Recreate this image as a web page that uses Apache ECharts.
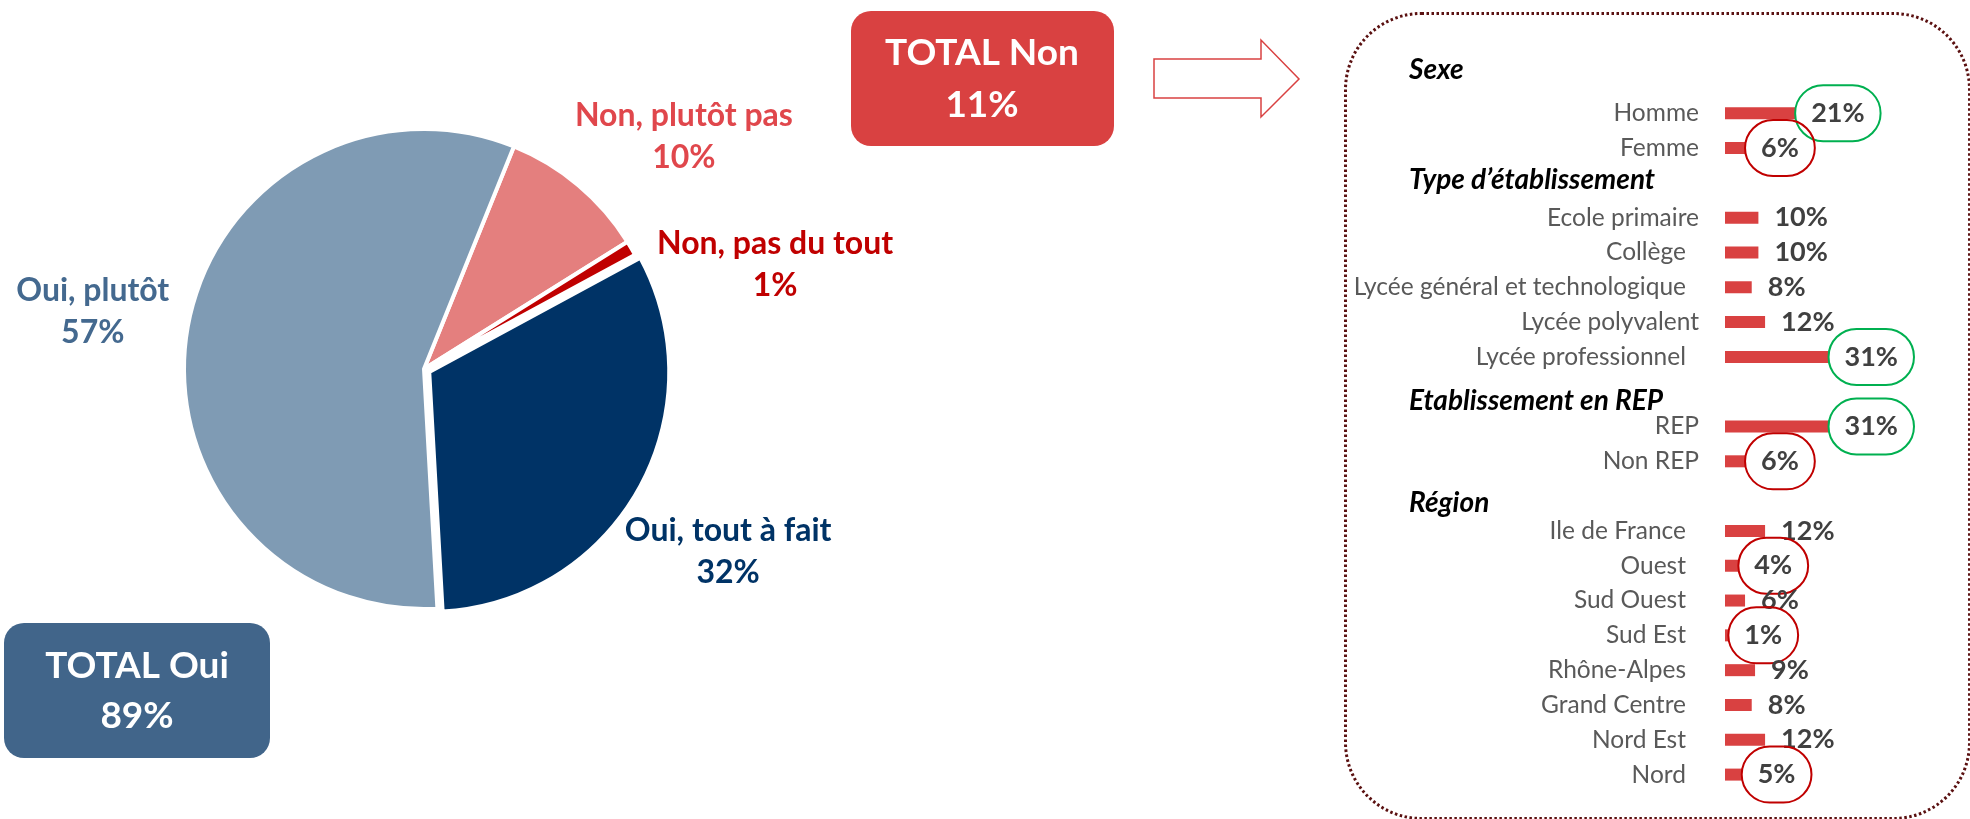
<!DOCTYPE html>
<html lang="fr">

<head>
    <meta charset="UTF-8">
    <title>Total Oui / Non</title>
    <script src="https://cdn.jsdelivr.net/npm/echarts@6/dist/echarts.min.js"></script>
</head>

<body style="margin: 0; background: #fff">
    <div id="container" style="width: 1970px; height: 819px"></div>
    <script type="text/javascript">
        // pie (clockwise from the top-right)
        var pieLabels = ['Non, plutôt pas', 'Non, pas du tout', 'Oui, tout à fait', 'Oui, plutôt'];
        var pieValues = [10, 1, 32, 57];

        // "Non" breakdown, one pair of arrays per group
        var groupTitles = ['Sexe', 'Type d’établissement', 'Etablissement en REP', 'Région'];
        var sexeLabels = ['Homme', 'Femme'];
        var sexeValues = [21, 6];
        var typeLabels = ['Ecole primaire', 'Collège', 'Lycée général et technologique', 'Lycée polyvalent', 'Lycée professionnel'];
        var typeValues = [10, 10, 8, 12, 31];
        var repLabels = ['REP', 'Non REP'];
        var repValues = [31, 6];
        var regionLabels = ['Ile de France', 'Ouest', 'Sud Ouest', 'Sud Est', 'Rhône-Alpes', 'Grand Centre', 'Nord Est', 'Nord'];
        var regionValues = [12, 4, 6, 1, 9, 8, 12, 5];

        // circled values
        var circledHigh = ['Homme', 'Lycée professionnel', 'REP'];
        var circledLow = ['Femme', 'Non REP', 'Ouest', 'Sud Est', 'Nord'];

        var FONT = 'Lato';
        var pieColors = ['#E47F7E', '#C00000', '#003366', '#7F9BB4'];
        var pieTextColors = ['#E0474C', '#C00000', '#003366', '#44698F'];
        var labelOffsets = [[33, 38], [46, 73], [-4, 10], [17, 0]];
        // titles are not exactly on the row grid: top/bottom padding per title
        var titlePads = [[0, 16], [0, 6], [18, 0], [14, 0]];
        // labels that sit a bit further left in the original
        var shifted = ['Collège', 'Lycée général et technologique', 'Lycée professionnel'].concat(regionLabels);

        var totalNon = pieValues[0] + pieValues[1];
        var totalOui = pieValues[2] + pieValues[3];

        var groups = [
            [sexeLabels, sexeValues],
            [typeLabels, typeValues],
            [repLabels, repValues],
            [regionLabels, regionValues]
        ];
        var categories = [];
        var barData = [];
        groups.forEach(function (g, gi) {
            categories.push(groupTitles[gi]);
            barData.push(null);
            g[0].forEach(function (name, i) {
                categories.push(name);
                var item = { value: g[1][i] };
                var ring = circledHigh.indexOf(name) >= 0 ? '#00B050' : (circledLow.indexOf(name) >= 0 ? '#C00000' : null);
                if (ring) {
                    item.label = {
                        borderColor: ring,
                        borderWidth: 2,
                        borderRadius: 28,
                        lineHeight: 28,
                        padding: [14, 16],
                        distance: 0
                    };
                }
                barData.push(item);
            });
        });

        var titleRich = {};
        titlePads.forEach(function (p, i) {
            titleRich['h' + i] = {
                fontFamily: FONT, fontSize: 28, fontWeight: 'bold', fontStyle: 'italic', color: '#000',
                width: 290, align: 'left', padding: [p[0], 0, p[1], 0]
            };
        });
        titleRich.n = { fontFamily: FONT, fontSize: 24.5, color: '#595959' };
        titleRich.m = { fontFamily: FONT, fontSize: 24.5, color: '#595959', padding: [0, 13, 0, 0] };

        var myChart = echarts.init(document.getElementById('container'), null, { renderer: 'canvas' });

        var option = {
            animation: false,
            textStyle: { fontFamily: FONT },
            grid: { left: 1725, top: 61, width: 167, height: 731 },
            xAxis: { type: 'value', min: 0, max: 50, show: false },
            yAxis: {
                type: 'category',
                inverse: true,
                data: categories,
                axisLine: { show: false },
                axisTick: { show: false },
                splitLine: { show: false },
                axisLabel: {
                    interval: 0,
                    margin: 26,
                    formatter: function (v) {
                        var t = groupTitles.indexOf(v);
                        if (t >= 0) return '{h' + t + '|' + v + '}';
                        if (shifted.indexOf(v) >= 0) return '{m|' + v + '}';
                        return '{n|' + v + '}';
                    },
                    rich: titleRich
                }
            },
            series: [
                {
                    type: 'pie',
                    center: [424, 369],
                    radius: 240,
                    startAngle: 68,
                    selectedMode: 'single',
                    selectedOffset: 6,
                    silent: true,
                    label: { show: false },
                    labelLine: { show: false },
                    itemStyle: { borderColor: '#fff', borderWidth: 4 },
                    data: pieLabels.map(function (n, i) {
                        return { name: n, value: pieValues[i], selected: i === 2, itemStyle: { color: pieColors[i] } };
                    })
                },
                {
                    // invisible ring that only carries the pie labels
                    type: 'pie',
                    center: [424, 369],
                    radius: [330, 370],
                    startAngle: 68,
                    silent: true,
                    itemStyle: { color: 'rgba(0,0,0,0)' },
                    labelLine: { show: false },
                    label: {
                        show: true,
                        position: 'inside',
                        formatter: '{b}\n{c}%',
                        fontFamily: FONT,
                        fontSize: 32,
                        fontWeight: 'bold',
                        lineHeight: 42,
                        align: 'center'
                    },
                    data: pieLabels.map(function (n, i) {
                        return {
                            name: n, value: pieValues[i],
                            label: { color: pieTextColors[i], offset: labelOffsets[i] }
                        };
                    })
                },
                {
                    type: 'bar',
                    barWidth: 12,
                    silent: true,
                    itemStyle: { color: '#D94141' },
                    label: {
                        show: true,
                        position: 'right',
                        distance: 16,
                        formatter: function (p) { return p.value == null ? '' : p.value + '%'; },
                        fontFamily: FONT,
                        fontSize: 27,
                        fontWeight: 'bold',
                        lineHeight: 28,
                        color: '#404040'
                    },
                    data: barData
                }
            ],
            graphic: [
                {
                    type: 'rect', left: 1343, top: 11,
                    shape: { width: 624, height: 805, r: 76 },
                    style: { fill: 'none', stroke: '#5A1010', lineWidth: 3, lineDash: [2.5, 2.5] }
                },
                {
                    type: 'rect', left: 851, top: 11,
                    shape: { width: 263, height: 135, r: 20 },
                    style: { fill: '#D94141' }
                },
                {
                    type: 'text', x: 982, y: 79,
                    style: {
                        text: 'TOTAL Non\n' + totalNon + '%', fill: '#fff', align: 'center', verticalAlign: 'middle',
                        font: 'bold 37px Lato', lineHeight: 52
                    }
                },
                {
                    type: 'polygon',
                    shape: { points: [[1154, 59], [1261, 59], [1261, 40], [1299, 79], [1261, 117], [1261, 98], [1154, 98]] },
                    style: { fill: '#fff', stroke: '#D94141', lineWidth: 1.5 }
                },
                {
                    type: 'rect', left: 4, top: 623,
                    shape: { width: 266, height: 135, r: 20 },
                    style: { fill: '#41658A' }
                },
                {
                    type: 'text', x: 137, y: 691,
                    style: {
                        text: 'TOTAL Oui\n' + totalOui + '%', fill: '#fff', align: 'center', verticalAlign: 'middle',
                        font: 'bold 37px Lato', lineHeight: 50
                    }
                }
            ]
        };

        myChart.setOption(option);
        window.addEventListener('resize', myChart.resize);
    </script>
</body>

</html>
